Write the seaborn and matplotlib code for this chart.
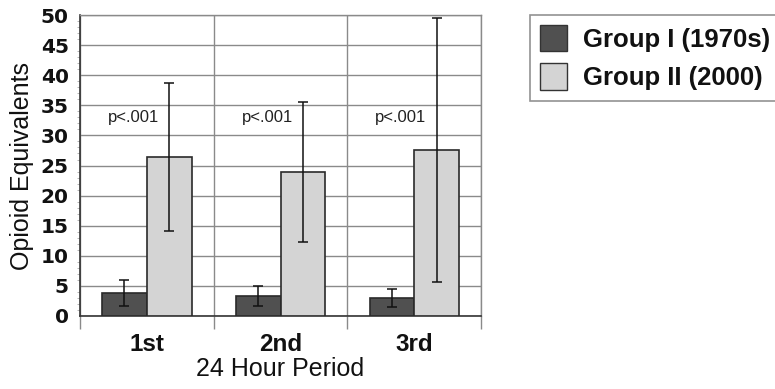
import pandas as pd
import numpy as np
import matplotlib
matplotlib.use('Agg')
import matplotlib.pyplot as plt
import seaborn as sns
from matplotlib.patches import Patch

# values
periods = ['1st', '2nd', '3rd']
groups = ['Group I (1970s)', 'Group II (2000)']
group1_mean = [3.8, 3.3, 3.0]
group1_sd = [2.2, 1.7, 1.5]
group2_mean = [26.4, 23.9, 27.6]
group2_sd = [12.3, 11.6, 21.9]
p_labels = ['p<.001', 'p<.001', 'p<.001']

df = pd.DataFrame({
    'period': periods * 2,
    'group': [groups[0]] * 3 + [groups[1]] * 3,
    'value': group1_mean + group2_mean,
})

colors = ['#505050', '#d4d4d4']

sns.set_style('white')
plt.rcParams['font.family'] = ['Liberation Sans', 'DejaVu Sans']
plt.rcParams['text.color'] = '#111111'
plt.rcParams['axes.labelcolor'] = '#111111'
plt.rcParams['xtick.labelcolor'] = '#111111'
plt.rcParams['ytick.labelcolor'] = '#111111'

fig = plt.figure(figsize=(7.75, 3.89), dpi=100)
ax = fig.add_axes([0.103, 0.188, 0.518, 0.773])

sns.barplot(data=df, x='period', y='value', hue='group', palette=colors,
            width=0.67, gap=0, errorbar=None, edgecolor='#2a2a2a', linewidth=1.2,
            ax=ax, legend=False, zorder=3)

# error bars
for cont, sd in zip(ax.containers, [group1_sd, group2_sd]):
    xs = [b.get_x() + b.get_width() / 2 for b in cont]
    hs = [b.get_height() for b in cont]
    ax.errorbar(xs, hs, yerr=sd, fmt='none', ecolor='#111111', elinewidth=1.1,
                capsize=3.5, capthick=1.1, zorder=4)

# p-value labels
for i, lab in enumerate(p_labels):
    ax.text(i - 0.1, 33, lab, ha='center', va='center', fontsize=12, color='#222222', zorder=5)

ax.set_xlim(-0.5, 2.5)
ax.set_ylim(0, 50)
ax.set_yticks(np.arange(0, 51, 5))
ax.set_yticks(np.arange(0, 51, 1), minor=True)
ax.set_xticks([0, 1, 2])
ax.set_xticks([-0.5, 0.5, 1.5, 2.5], minor=True)

ax.grid(True, which='major', axis='y', color='#8a8a8a', linewidth=1, zorder=0)
ax.grid(True, which='minor', axis='x', color='#8a8a8a', linewidth=1, zorder=0)
ax.set_axisbelow(True)

for s in ['top', 'right']:
    ax.spines[s].set_color('#8a8a8a')
    ax.spines[s].set_linewidth(1)
for s in ['left', 'bottom']:
    ax.spines[s].set_color('#333333')
    ax.spines[s].set_linewidth(1.2)

ax.tick_params(axis='y', which='major', length=4, width=1, color='#555555', pad=4)
ax.tick_params(axis='y', which='minor', length=2, width=0.6, color='#aaaaaa', left=True)
ax.tick_params(axis='x', which='major', length=0, pad=12)
ax.tick_params(axis='x', which='minor', length=9, width=1, color='#8a8a8a', bottom=True)

for t in ax.get_yticklabels():
    t.set_fontfamily('DejaVu Sans')
    t.set_fontweight('heavy')
    t.set_fontsize(14.5)
for t in ax.get_xticklabels():
    t.set_fontweight('heavy')
    t.set_fontsize(17.5)

ax.set_xlabel('24 Hour Period', fontsize=18, labelpad=1)
ax.set_ylabel('Opioid Equivalents', fontsize=18, labelpad=5)

handles = [Patch(facecolor=c, edgecolor='#333333', linewidth=1) for c in colors]
leg = fig.legend(handles, groups, loc='upper left', bbox_to_anchor=(0.684, 0.962),
                 frameon=True, fancybox=False, edgecolor='#777777',
                 prop={'weight': 'bold', 'size': 18.5}, handlelength=1.05, handleheight=1.2,
                 handletextpad=0.6, labelspacing=0.45, borderpad=0.4, borderaxespad=0)
leg.get_frame().set_linewidth(1.2)

fig.savefig('out.png', dpi=100)
